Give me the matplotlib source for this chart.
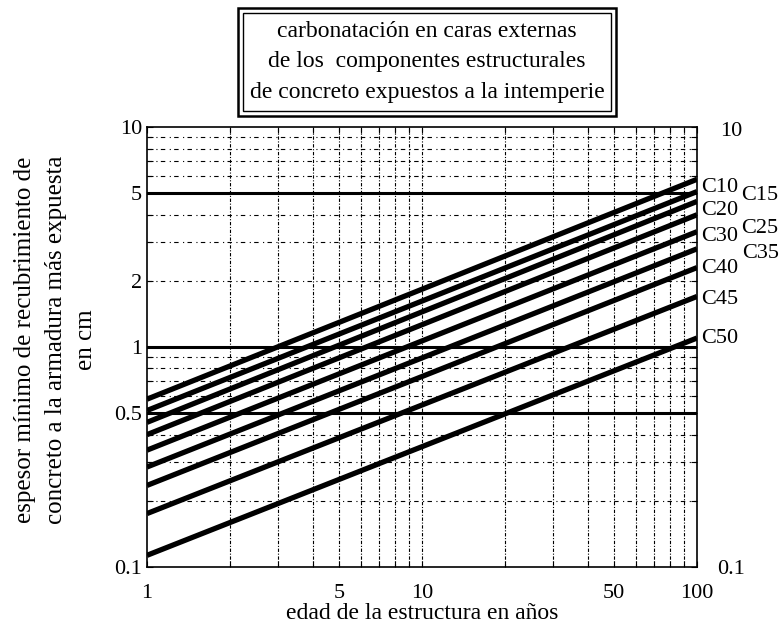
import numpy as np
import matplotlib.pyplot as plt
from matplotlib.patches import Rectangle
from matplotlib.ticker import FixedLocator, NullFormatter
import matplotlib.transforms as mtransforms

plt.rcParams['font.family'] = ['Liberation Serif', 'DejaVu Serif']

# data
grades = ["C10", "C15", "C20", "C25", "C30", "C35", "C40", "C45", "C50"]
years = [1, 100]
cover_1 = [0.58, 0.515, 0.455, 0.40, 0.34, 0.285, 0.235, 0.175, 0.113]
cover_100 = [5.8, 5.1, 4.6, 4.0, 3.35, 2.8, 2.3, 1.7, 1.1]
limits = [5, 1, 0.5]
label_y = [5.34, 4.91, 4.2, 3.47, 3.2, 2.67, 2.29, 1.64, 1.10]
label_x = [1.042, 1.115, 1.042, 1.115, 1.042, 1.115, 1.042, 1.042, 1.042]

xticks = [1, 5, 10, 50, 100]
yticks = [0.1, 0.5, 1, 2, 5, 10]

fig = plt.figure(figsize=(7.8, 6.29), dpi=100)
ax = fig.add_axes([0.1885, 0.0986, 0.705, 0.699])
ax.set_xscale("log")
ax.set_yscale("log")
ax.set_xlim(1, 100)
ax.set_ylim(0.1, 10)

# grid
minor_x = [m * d for d in (1, 10) for m in range(2, 10)] + [10]
minor_y = [m * d for d in (0.1, 1) for m in range(2, 10)]
for xv in minor_x:
    ax.axvline(xv, color="black", lw=0.8, ls=(0, (3, 1.5, 1, 1.5)), zorder=1)
for yv in minor_y:
    ax.axhline(yv, color="black", lw=0.8, ls=(0, (4, 4, 1, 3)), zorder=1)

for lv in limits:
    ax.axhline(lv, color="black", lw=2.2, zorder=2)

trans = mtransforms.blended_transform_factory(ax.transAxes, ax.transData)
for i, g in enumerate(grades):
    ax.plot(years, [cover_1[i], cover_100[i]], color="black", lw=3.8,
            solid_capstyle="butt", zorder=3)
    ax.text(label_x[i], label_y[i], g, transform=trans, fontsize=16,
            ha="center", va="center", clip_on=False)

ax.xaxis.set_major_locator(FixedLocator(xticks))
ax.xaxis.set_minor_locator(FixedLocator(minor_x))
ax.xaxis.set_minor_formatter(NullFormatter())
ax.set_xticklabels([str(v) for v in xticks])
ax.yaxis.set_major_locator(FixedLocator(yticks))
ax.yaxis.set_minor_locator(FixedLocator(minor_y))
ax.yaxis.set_minor_formatter(NullFormatter())
ax.set_yticklabels(["0.1", "0.5", "1", "2", "5", "10"])
ax.tick_params(which="both", direction="in", top=True, right=True,
               labelsize=16, length=4, width=0.8)
ax.tick_params(axis="x", pad=12)
for s in ax.spines.values():
    s.set_linewidth(1.2)

ax.set_xlabel("edad de la estructura en años", fontsize=17, labelpad=0)
fig.text(56 / 780, 1 - 340 / 629, "espesor mínimo de recubrimiento de\n"
         "concreto a la armadura más expuesta\nen cm",
         rotation=90, fontsize=18, ha="center", va="center",
         multialignment="center", linespacing=1.5)

fig.text(731 / 780, 1 - 131 / 629, "10", fontsize=16, ha="center", va="center")
fig.text(731 / 780, 1 - 570 / 629, "0.1", fontsize=16, ha="center", va="center")

# title box with double border
x0, x1, y0, y1 = 238, 616, 8, 116
fig.patches.append(Rectangle((x0 / 780, 1 - y1 / 629), (x1 - x0) / 780,
                             (y1 - y0) / 629, transform=fig.transFigure,
                             fill=False, lw=1.8, ec="black"))
d = 5
fig.patches.append(Rectangle(((x0 + d) / 780, 1 - (y1 - d) / 629),
                             (x1 - x0 - 2 * d) / 780, (y1 - y0 - 2 * d) / 629,
                             transform=fig.transFigure, fill=False, lw=1.0,
                             ec="black"))
fig.text((x0 + x1) / 2 / 780, 1 - (y0 + y1) / 2 / 629,
         "carbonatación en caras externas\n"
         "de los  componentes estructurales\n"
         "de concreto expuestos a la intemperie",
         fontsize=17, ha="center", va="center", linespacing=1.6)

plt.savefig("out.png", dpi=100)
